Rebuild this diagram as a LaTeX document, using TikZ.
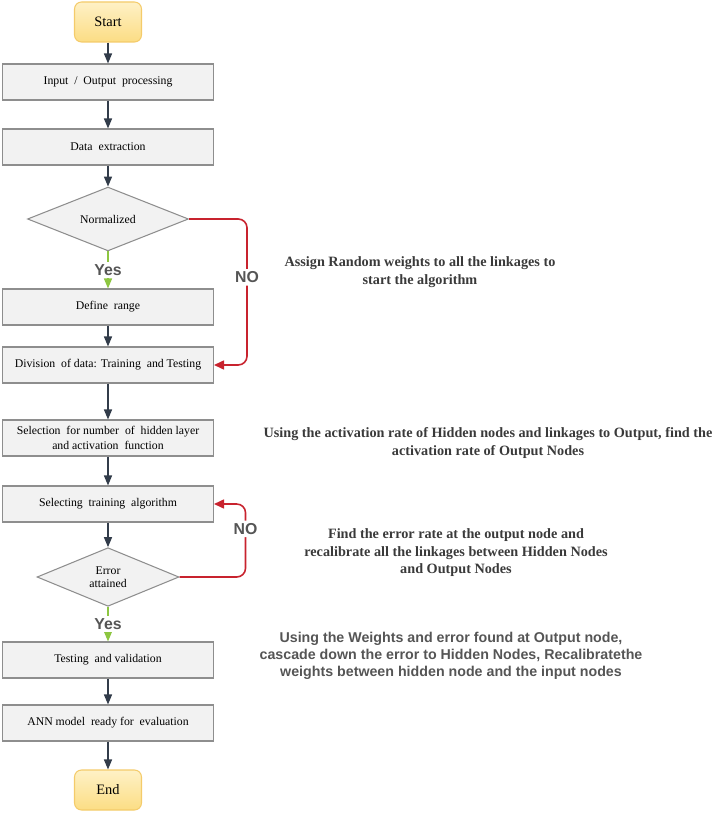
\documentclass[tikz,border=0pt]{standalone}
\usepackage{fontspec}
\setmainfont{Liberation Serif}
\setsansfont{Liberation Sans}
\usetikzlibrary{shapes.geometric,arrows.meta,shadows}
\definecolor{boxgray}{HTML}{F2F2F2}
\definecolor{boxline}{HTML}{8E8E8E}
\definecolor{termtop}{HTML}{FEF1C6}
\definecolor{termbot}{HTML}{FCDD84}
\definecolor{termline}{HTML}{F4CB6A}
\definecolor{arrowblue}{HTML}{323C4A}
\definecolor{noRed}{HTML}{C8232E}
\definecolor{yesGreen}{HTML}{8DC641}
\definecolor{notegray}{HTML}{3A3A3A}
\definecolor{sansgray}{HTML}{555555}

\tikzset{
  procbox/.style={draw=boxline, fill=boxgray, line width=0.6pt,
    minimum width=4.22cm, minimum height=0.72cm, align=center, inner sep=1pt,
    font=\fontsize{6.7}{8.2}\selectfont,
    drop shadow={opacity=0.25, shadow xshift=0.2pt, shadow yshift=-0.8pt}},
  decbox/.style={diamond, draw=boxline, fill=boxgray, line width=0.6pt,
    inner sep=0pt, align=center, font=\fontsize{6.7}{7.7}\selectfont},
  termbox/.style={draw=termline, top color=termtop, bottom color=termbot,
    rounded corners=4pt, line width=0.6pt, minimum width=1.34cm,
    minimum height=0.8cm, font=\fontsize{8.2}{9}\selectfont},
  flow/.style={draw=arrowblue, line width=0.8pt,
    -{Triangle[length=2mm,width=1.6mm]}},
  yesline/.style={draw=yesGreen, line width=0.8pt,
    -{Triangle[length=2mm,width=1.6mm]}},
  noline/.style={draw=noRed, line width=0.9pt, rounded corners=5pt,
    -{Triangle[length=2mm,width=1.8mm]}},
  branchlbl/.style={fill=white, inner sep=1.5pt, text=sansgray,
    font=\sffamily\bfseries\fontsize{9}{10}\selectfont},
  note/.style={align=center, text=notegray,
    font=\bfseries\fontsize{8.1}{10}\selectfont},
  sansnote/.style={align=center, text=sansgray,
    font=\sffamily\bfseries\fontsize{8.1}{9.8}\selectfont}
}

\begin{document}
\begin{tikzpicture}[x=0.02cm, y=-0.02cm]
\useasboundingbox (0,0) rectangle (720,813);

% flow chart column
\node[termbox] (start) at (108,22) {Start};
\node[procbox] (io) at (108,82) {Input~ /~ Output~ processing};
\node[procbox] (extract) at (108,147) {Data~ extraction};
\node[decbox, minimum width=3.22cm, minimum height=1.06cm] (norm) at (108,219) {Normalized};
\node[procbox] (range) at (108,307) {Define~ range};
\node[procbox] (divide) at (108,365) {Division~ of data: Training~ and Testing};
\node[procbox] (hidden) at (108,438) {Selection~ for number~ of~ hidden layer\\and activation~ function};
\node[procbox] (train) at (108,504) {Selecting~ training~ algorithm};
\node[decbox, minimum width=2.84cm, minimum height=0.92cm] (err) at (108,577) {Error\\attained};
\node[procbox] (test) at (108,660) {Testing~ and validation};
\node[procbox] (ann) at (108,723) {ANN model~ ready for~ evaluation};
\node[termbox] (finish) at (108,790) {End};

% connectors
\draw[flow] (start) -- (io);
\draw[flow] (io) -- (extract);
\draw[flow] (extract) -- (norm);
\draw[yesline] (norm) -- node[branchlbl] {Yes} (range);
\draw[flow] (range) -- (divide);
\draw[flow] (divide) -- (hidden);
\draw[flow] (hidden) -- (train);
\draw[flow] (train) -- (err);
\draw[yesline] (err) -- node[branchlbl] {Yes} (test);
\draw[flow] (test) -- (ann);
\draw[flow] (ann) -- (finish);

% NO loops
\draw[noline] (norm.east) -- ++(58,0) |- node[branchlbl, pos=0.2] {NO} (divide.east);
\draw[noline] (err.east) -- ++(66,0) |- node[branchlbl, pos=0.33] {NO} (train.east);

% side notes
\node[note] (assign) at (420,272) {Assign Random weights to all the linkages to\\start the algorithm};
\node[note] (activ) at (488,443) {Using the activation rate of Hidden nodes and linkages to Output, find the\\activation rate of Output Nodes};
\node[note] (errrate) at (456,553) {Find the error rate at the output node and\\recalibrate all the linkages between Hidden Nodes\\and Output Nodes};
\node[sansnote] (cascade) at (451,656) {Using the Weights and error found at Output node,\\cascade down the error to Hidden Nodes, Recalibratethe\\weights between hidden node and the input nodes};
\end{tikzpicture}
\end{document}
